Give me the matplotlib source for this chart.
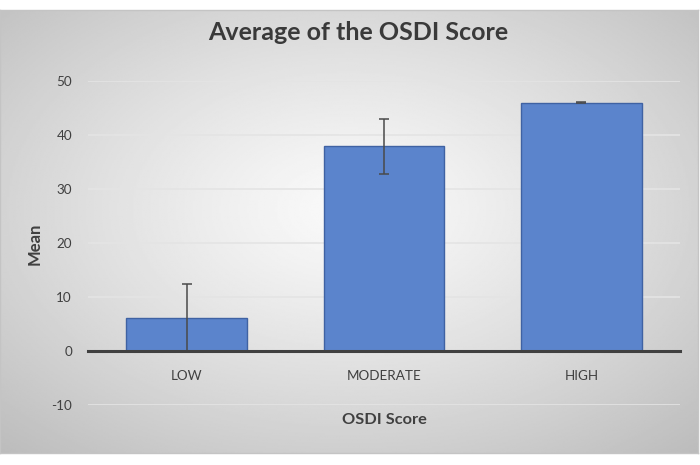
import numpy as np
import matplotlib.pyplot as plt

categories = ["LOW", "MODERATE", "HIGH"]
means = [6.2, 37.9, 46.0]
errors = [6.2, 5.1, 0.15]
y_ticks = [-10, 0, 10, 20, 30, 40, 50]

plt.rcParams['font.family'] = ['Lato', 'DejaVu Sans']
plt.rcParams['axes.unicode_minus'] = False

fig = plt.figure(figsize=(7, 4.65), dpi=100)
fig.patch.set_facecolor('white')

# gradient panel behind the chart
bg = fig.add_axes([0, 12 / 465, 0.997, 443 / 465], zorder=0)
yy, xx = np.mgrid[-1:1:300j, -1:1:450j]
r = np.sqrt(xx ** 2 + (yy + 0.1) ** 2) / np.sqrt(2)
shade = 0.98 - 0.23 * r ** 1.2
bg.imshow(shade, cmap='gray', vmin=0, vmax=1, aspect='auto', extent=[0, 1, 0, 1])
bg.set_xticks([])
bg.set_yticks([])
for s in bg.spines.values():
    s.set_color('#c4c4c4')
    s.set_linewidth(1)

ax = fig.add_axes([88 / 700, 1 - 405 / 465, 592 / 700, 324 / 465], zorder=1)
ax.patch.set_alpha(0)
x = np.arange(len(categories))
ax.bar(x, means, width=0.61, color='#5b84cc', edgecolor='#3f62a3', linewidth=1, zorder=3)
ax.errorbar(x, means, yerr=errors, fmt='none', ecolor='#4a4a4a', elinewidth=1.1,
            capsize=3.5, capthick=1.1, zorder=4)

ax.set_xlim(-0.5, 2.5)
ax.set_ylim(-10, 50)
ax.set_yticks(y_ticks)
ax.set_xticks(x)
ax.set_xticklabels(categories)
ax.grid(axis='y', color='#e4e4e4', linewidth=1.2, zorder=0)
ax.set_axisbelow(True)

for side in ['top', 'right', 'left']:
    ax.spines[side].set_visible(False)
ax.spines['bottom'].set_position(('data', 0))
ax.spines['bottom'].set_color('#404040')
ax.spines['bottom'].set_linewidth(2.2)
ax.spines['bottom'].set_zorder(5)

ax.tick_params(axis='x', length=0, pad=14, labelsize=9.7, labelcolor='#404040')
ax.tick_params(axis='y', length=0, pad=11.5, labelsize=9.7, labelcolor='#404040')

fig.text(384 / 700, 1 - 420 / 465, "OSDI Score", ha='center', va='center',
         fontsize=11.8, fontweight='bold', color='#404040')
fig.text(35 / 700, 1 - 244 / 465, "Mean", ha='center', va='center', rotation=90,
         fontsize=12, fontweight='bold', color='#404040')
fig.text(358 / 700, 1 - 33 / 465, "Average of the OSDI Score", ha='center', va='center',
         fontsize=18, fontweight='bold', color='#3a3a3a')

fig.savefig("out.png", dpi=100)
